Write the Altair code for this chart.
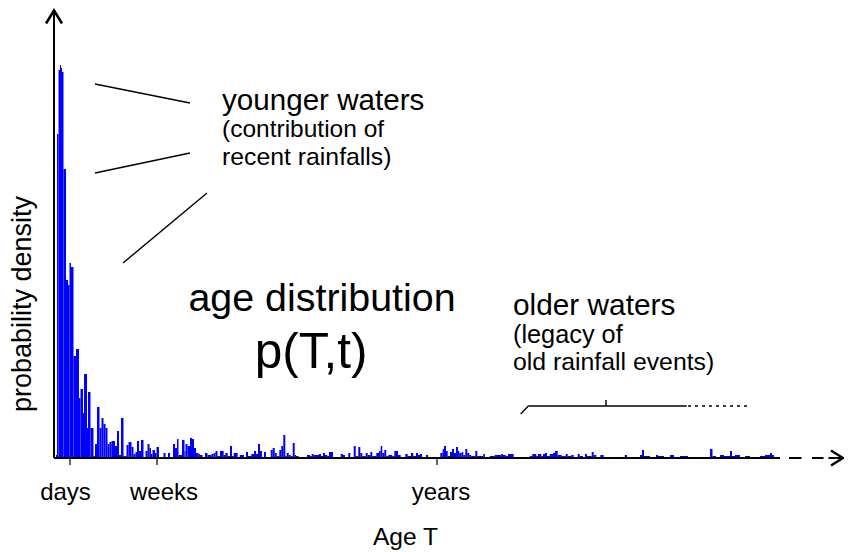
import altair as alt
import pandas as pd

# ---------------- data ----------------
# left edges of the age bins (x units) and the density of each bin; last edge closes the final bin
age_edges = [
    56, 57, 58.5, 60, 61, 62, 63.5, 66, 68, 69.5, 71, 73.5, 76, 79, 80.5, 83, 84, 87, 88, 90.5,
    93.5, 95, 97, 99.5, 101.5, 103.5, 105.5, 107.5, 109.5, 111.5, 115, 117, 119, 121, 123.5, 126.5,
    128.5, 131.5, 133.5, 135.5, 137, 139, 141, 143.5, 145.5, 147.5, 149.5, 151, 152.5, 155, 156.5,
    159, 163.5, 165.5, 168, 170, 173, 175, 177, 178.5, 182, 184.5, 185.5, 187.5, 190, 192, 194,
    196, 198.5, 200, 202.5, 205, 207.5, 211.5, 213.5, 215.5, 217.5, 220, 223.7, 225.3, 227.7, 230,
    232, 233.7, 237.7, 239.7, 244, 246, 248, 251.3, 254, 256, 258, 260, 262, 264, 266, 270.7, 272.7,
    274.7, 276.7, 279.3, 281.3, 283.3, 285.3, 286.7, 288.7, 290.7, 292.7, 294.7, 296, 298.7, 307,
    310, 311.7, 313.7, 319, 321, 323, 325, 327.3, 329, 333, 340.7, 343, 345, 348.3, 350.3, 353.7,
    355.7, 358.3, 360.3, 362.3, 365.7, 367.7, 370.3, 372.3, 376.3, 379, 380.7, 382.3, 384.3, 386.3,
    388.3, 392.3, 394.3, 398, 400.7, 405.3, 407.7, 411, 413.3, 416, 418, 420, 422, 426, 428, 440.3,
    442.7, 444, 446, 447.7, 450, 452, 454, 456, 458, 459.3, 461.7, 463.3, 465.3, 467.3, 469.3, 471.3,
    475.3, 477.3, 483.3, 485, 489.7, 494.7, 501.3, 503, 505.7, 508, 513.7, 518, 529.7, 532.3, 536.3,
    538, 541.3, 543, 545, 547, 549.7, 553, 555, 557.7, 561.7, 565.7, 567.7, 571.3, 573.7, 577.7,
    579.7, 583, 585, 587, 591.7, 593.7, 596.3, 600.3, 603.7, 624.7, 627, 640, 642, 644, 650, 656,
    658, 664, 670, 674, 680, 688, 710, 712.5, 716, 720, 724, 730, 732, 735, 740, 745, 750, 760, 765,
    770, 772, 774, 778,
]
density = [
    3, 324, 388, 393, 390, 386, 289, 178, 173, 195, 191, 102, 109, 60, 69, 45, 84, 30, 66, 30,
    2, 14, 51, 30, 40, 34, 30, 14, 16, 17, 12, 27, 3, 40, 2, 13,
    16, 11, 4, 6, 17, 7, 18, 1, 7, 14, 10, 4, 8, 5, 11,
    1, 5, 1, 5, 1, 14, 10, 19, 3, 18, 7, 14, 12, 20, 19, 10,
    5, 4, 3, 1, 5, 3, 4, 5, 7, 2, 7, 3, 5, 2, 12,
    2, 5, 1, 3, 1, 6, 2, 4, 7, 4, 14, 7, 1, 6, 1, 8, 10,
    5, 2, 8, 12, 23, 2, 5, 3, 2, 15, 3, 2, 1, 3,
    2, 4, 3, 4, 2, 5, 3, 2, 6, 1, 4, 3, 1, 5, 1, 12,
    2, 11, 5, 2, 5, 3, 6, 2, 5, 7, 12, 5, 8, 2,
    3, 2, 7, 3, 1, 4, 2, 5, 2, 5, 3, 4, 1, 3, 0.5, 5,
    9, 12, 7, 2, 6, 9, 5, 11, 7, 5, 6, 3, 9, 5, 3, 2,
    7, 2, 4, 1, 2, 3, 4, 3, 2, 4, 1, 0.3, 2, 4, 2,
    4, 2, 4, 5, 2, 4, 5, 7, 3, 2, 4, 2, 3, 1, 4,
    2, 1, 4, 2, 6, 3, 1, 3, 1, 3, 1, 3, 8, 2, 1, 3,
    2, 1, 3, 1, 2, 0.5, 9, 2, 1, 3, 2, 7, 2, 3, 1, 2, 1, 2, 3,
    5, 3, 1,
]

tick_age = [70, 157, 437]
tick_label = ["days", "weeks", "years"]
tick_label_x = [65.5, 164, 441]

# annotation pointer lines (x, y) -> (x2, y2) in chart units
pointer_x = [95, 95, 123, 520.7, 528.3, 606]
pointer_y = [374, 285, 195, 44, 52, 58]
pointer_x2 = [190, 190, 207, 528.3, 686.7, 606]
pointer_y2 = [355, 305, 265, 52, 52, 52]
dotted_x, dotted_x2, dotted_y = [688], [747], [52]

# axis pieces
axis_x = [54, 54, 789, 812, 828.5]
axis_y = [0, 0, 0, 0, 0]
axis_x2 = [54, 780, 801.5, 823.5, 843]
axis_y2 = [447.3, 0, 0, 0, 0]
arrow_id = ["y", "y", "y", "x", "x", "x"]
arrow_x = [46, 54, 62, 831, 843, 831]
arrow_y = [434.5, 447.5, 434.5, 7.5, 0, -7.5]

left_texts = ["younger waters", "(contribution of", "recent rainfalls)",
              "older waters", "(legacy of", "old rainfall events)"]
left_x = [222, 222, 222, 513, 513, 513]
left_y = [348, 321, 293, 143.5, 115.5, 88.5]
left_size = [29.6, 24.5, 24.8, 29.8, 25.3, 24.8]

center_texts = ["age distribution", "p(T,t)", "Age T"] + tick_label
center_x = [322, 311, 405.5] + tick_label_x
center_y = [147, 90, -87, -42, -42, -42]
center_size = [39.4, 49.5, 24.6, 24, 24, 24]

ylabel_text, ylabel_x, ylabel_y = ["probability density"], [31], [154]

FONT = "Liberation Sans"
xs = alt.Scale(domain=[54, 844], nice=False, zero=False)
ys = alt.Scale(domain=[0, 446], nice=False, zero=False)

bars = pd.DataFrame({
    "a0": age_edges[:-1],
    "a1": age_edges[1:],
    "d": density,
    "base": [0] * len(density),
})

bar_layer = alt.Chart(bars).mark_rect(color="#0000ff").encode(
    x=alt.X("a0:Q", scale=xs, axis=None),
    x2="a1:Q",
    y=alt.Y("d:Q", scale=ys, axis=None),
    y2="base:Q",
)

axis_df = pd.DataFrame({"x": axis_x, "y": axis_y, "x2": axis_x2, "y2": axis_y2})
axis_layer = alt.Chart(axis_df).mark_rule(color="black", strokeWidth=2).encode(
    x=alt.X("x:Q", scale=xs, axis=None), y=alt.Y("y:Q", scale=ys, axis=None), x2="x2:Q", y2="y2:Q"
)

arrow_df = pd.DataFrame({"id": arrow_id, "x": arrow_x, "y": arrow_y, "o": list(range(len(arrow_x)))})
arrow_layer = alt.Chart(arrow_df).mark_line(color="black", strokeWidth=2.5, strokeJoin="miter").encode(
    x=alt.X("x:Q", scale=xs, axis=None), y=alt.Y("y:Q", scale=ys, axis=None),
    detail="id:N", order="o:Q"
)

tick_df = pd.DataFrame({"x": tick_age, "y": [0] * 3, "y2": [-7] * 3})
tick_layer = alt.Chart(tick_df).mark_rule(color="#333333", strokeWidth=1.5).encode(
    x=alt.X("x:Q", scale=xs, axis=None), y=alt.Y("y:Q", scale=ys, axis=None), y2="y2:Q"
)

ptr_df = pd.DataFrame({"x": pointer_x, "y": pointer_y, "x2": pointer_x2, "y2": pointer_y2})
ptr_layer = alt.Chart(ptr_df).mark_rule(color="black", strokeWidth=1.4).encode(
    x=alt.X("x:Q", scale=xs, axis=None), y=alt.Y("y:Q", scale=ys, axis=None), x2="x2:Q", y2="y2:Q"
)

dot_df = pd.DataFrame({"x": dotted_x, "x2": dotted_x2, "y": dotted_y})
dot_layer = alt.Chart(dot_df).mark_rule(color="black", strokeWidth=1.4, strokeDash=[3, 4]).encode(
    x=alt.X("x:Q", scale=xs, axis=None), y=alt.Y("y:Q", scale=ys, axis=None), x2="x2:Q"
)

lt_df = pd.DataFrame({"t": left_texts, "x": left_x, "y": left_y, "s": left_size})
lt_layer = alt.Chart(lt_df).mark_text(align="left", baseline="alphabetic", font=FONT, color="black").encode(
    x=alt.X("x:Q", scale=xs, axis=None), y=alt.Y("y:Q", scale=ys, axis=None),
    text="t:N", size=alt.Size("s:Q", scale=None)
)

ct_df = pd.DataFrame({"t": center_texts, "x": center_x, "y": center_y, "s": center_size})
ct_layer = alt.Chart(ct_df).mark_text(align="center", baseline="alphabetic", font=FONT, color="black").encode(
    x=alt.X("x:Q", scale=xs, axis=None), y=alt.Y("y:Q", scale=ys, axis=None),
    text="t:N", size=alt.Size("s:Q", scale=None)
)

yl_df = pd.DataFrame({"t": ylabel_text, "x": ylabel_x, "y": ylabel_y})
yl_layer = alt.Chart(yl_df).mark_text(align="center", baseline="alphabetic", font=FONT, color="black",
                                      angle=270, fontSize=27).encode(
    x=alt.X("x:Q", scale=xs, axis=None), y=alt.Y("y:Q", scale=ys, axis=None), text="t:N"
)

chart = alt.layer(
    bar_layer, axis_layer, arrow_layer, tick_layer, ptr_layer, dot_layer, lt_layer, ct_layer, yl_layer
).properties(
    width=790, height=446,
    padding={"left": 46, "top": 4, "right": 0, "bottom": 94},
    autosize=alt.AutoSizeParams(type="none"),
    background="white",
).configure_view(stroke=None)

chart.save("out.html", embed_options={"renderer": "svg", "actions": False})
